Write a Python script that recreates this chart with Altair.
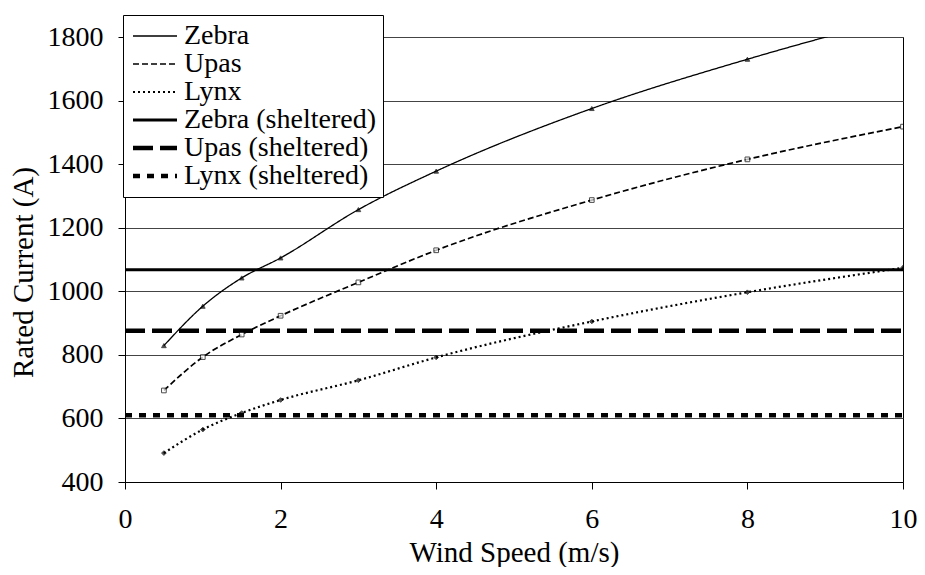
import altair as alt
import pandas as pd

# ---- data ----
wind = [0.5, 1, 1.5, 2, 3, 4, 6, 8, 10]
zebra = [829, 953, 1042, 1105, 1257, 1378, 1575, 1730, 1865]
upas = [688, 793, 864, 923, 1028, 1129, 1287, 1415, 1518]
lynx = [491, 565, 617, 658, 720, 792, 905, 997, 1074]

sheltered_x = [0, 10]
zebra_sheltered = 1068
upas_sheltered = 876
lynx_sheltered = 610

series = ["Zebra", "Upas", "Lynx",
          "Zebra (sheltered)", "Upas (sheltered)", "Lynx (sheltered)"]
x_ticks = [0, 2, 4, 6, 8, 10]
y_ticks = [400, 600, 800, 1000, 1200, 1400, 1600, 1800]

rows = []
for name, vals in zip(series[:3], [zebra, upas, lynx]):
    for x, y in zip(wind, vals):
        rows.append({"series": name, "x": x, "y": y})
for name, v in zip(series[3:], [zebra_sheltered, upas_sheltered, lynx_sheltered]):
    for x in sheltered_x:
        rows.append({"series": name, "x": x, "y": v})
df = pd.DataFrame(rows)
pts = df[df["series"].isin(series[:3])]

FONT = "Liberation Serif"

dash_range = [[1, 0], [6, 3], [2, 3], [1, 0], [20, 7], [7, 7]]
width_range = [1.3, 1.7, 2.2, 3, 4.5, 4.5]

legend = alt.Legend(title=None, orient="none", legendX=-2, legendY=-22,
                    symbolType="M-2,0L2,0", symbolSize=484, symbolOffset=11,
                    labelOffset=15,
                    symbolStrokeColor="black", labelFont=FONT)

xenc = alt.X("x:Q", scale=alt.Scale(domain=[0, 10], nice=False),
             axis=alt.Axis(values=x_ticks, title="Wind Speed (m/s)", grid=False,
                           tickSize=7, labelPadding=16,
                           titleBaseline="alphabetic", titleY=79,
                           labelFont=FONT, titleFont=FONT,
                           labelFontSize=28, titleFontSize=29, format="d"))
yenc = alt.Y("y:Q", scale=alt.Scale(domain=[400, 1800], nice=False, zero=False),
             axis=alt.Axis(values=y_ticks, title="Rated Current (A)", grid=True,
                           tickSize=7, labelPadding=15, labelFontSize=28,
                           labelFont=FONT, titleFont=FONT,
                           titleFontSize=29, titleX=-87, titleY=235, format="d"))

lines = alt.Chart(df).mark_line(clip=True, color="black", interpolate="monotone").encode(
    x=xenc,
    y=yenc,
    strokeDash=alt.StrokeDash("series:N",
                              scale=alt.Scale(domain=series, range=dash_range),
                              legend=legend),
    strokeWidth=alt.StrokeWidth("series:N",
                                scale=alt.Scale(type="ordinal", domain=series,
                                                range=width_range),
                                legend=legend),
    order="x:Q",
)

points = alt.Chart(pts).mark_point(filled=True, size=22, clip=True, strokeWidth=1).encode(
    x="x:Q",
    y="y:Q",
    shape=alt.Shape("series:N",
                    scale=alt.Scale(domain=series[:3],
                                    range=["triangle-up", "square", "diamond"]),
                    legend=None),
    fill=alt.Fill("series:N", scale=alt.Scale(domain=series[:3],
                                              range=["black", "white", "black"]),
                  legend=None),
    stroke=alt.value("black"),
)

chart = alt.layer(lines, points).properties(
    width=778, height=445,
    autosize=alt.AutoSizeParams(type="none"),
    padding={"left": 117, "top": 29, "right": 14, "bottom": 85},
    background="white",
).configure(
    font=FONT
).configure_view(
    stroke="black", strokeWidth=1
).configure_axis(
    labelColor="black", titleColor="black",
    titleFontWeight="normal", domainColor="black", tickColor="black",
    gridColor="#444444", gridWidth=1, labelFlush=False, labelOverlap=False,
).configure_legend(
    labelFontSize=28, labelColor="black", rowPadding=0,
    padding=7, strokeColor="black", fillColor="white",
    cornerRadius=0, labelLimit=400,
)

chart.save("out.html", embed_options={"renderer": "svg", "actions": False})
